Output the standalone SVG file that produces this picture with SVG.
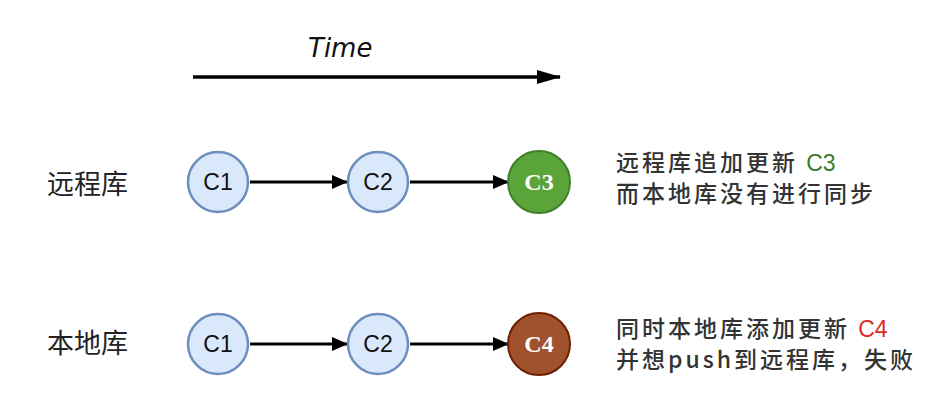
<svg xmlns="http://www.w3.org/2000/svg" width="948" height="416" viewBox="0 0 948 416">
<defs>
<marker id="arr" markerWidth="16" markerHeight="14" refX="15" refY="7" orient="auto" markerUnits="userSpaceOnUse">
<path d="M0,0 L16,7 L0,14 Z" fill="#000"/>
</marker>
<marker id="arrT" markerWidth="24" markerHeight="14" refX="23" refY="7" orient="auto" markerUnits="userSpaceOnUse">
<path d="M0,0 L24,7 L0,14 Z" fill="#000"/>
</marker>
<style>
.blue{fill:#dae8fc;stroke:#6c8ebf;stroke-width:2.5}
.green{fill:#5aa43a;stroke:#3f7f2a;stroke-width:2}
.brown{fill:#a0522d;stroke:#6d1f00;stroke-width:2}
.nt{font-family:"Liberation Sans",Arial,sans-serif;font-size:23px;fill:#111;text-anchor:middle}
.ns{font-family:"Liberation Serif","Times New Roman",serif;font-size:24px;font-weight:bold;fill:#fff;text-anchor:middle}
.lbl{font-family:"Noto Sans CJK SC","DejaVu Sans",sans-serif;font-size:27px;fill:#222}
.desc{font-family:"Noto Sans CJK SC","DejaVu Sans",sans-serif;font-size:23px;font-weight:500;fill:#333;letter-spacing:3px}
.edge{stroke:#000;stroke-width:3;fill:none;marker-end:url(#arr)}
</style>
</defs>
<rect width="948" height="416" fill="#fff"/>
<g id="time">
<text x="308" y="57" font-family="'DejaVu Sans',sans-serif" font-style="italic" font-size="26" fill="#111">Time</text>
<line x1="193" y1="77" x2="560" y2="77" stroke="#000" stroke-width="3.5" marker-end="url(#arrT)"/>
</g>
<g id="connectors">
<line x1="250" y1="182" x2="347" y2="182" class="edge"/>
<line x1="410" y1="182" x2="508" y2="182" class="edge"/>
<line x1="250" y1="344" x2="347" y2="344" class="edge"/>
<line x1="410" y1="344" x2="508" y2="344" class="edge"/>
</g>
<g id="label-remote"><text x="47" y="194" class="lbl">远程库</text></g>
<g id="label-local"><text x="47" y="353" class="lbl">本地库</text></g>
<g id="r-c1"><circle cx="218" cy="182" r="30" class="blue"/><text x="218" y="190" class="nt">C1</text></g>
<g id="r-c2"><circle cx="378" cy="182" r="30" class="blue"/><text x="378" y="190" class="nt">C2</text></g>
<g id="r-c3"><circle cx="539" cy="182" r="31" class="green"/><text x="539" y="190" class="ns">C3</text></g>
<g id="l-c1"><circle cx="218" cy="344" r="30" class="blue"/><text x="218" y="352" class="nt">C1</text></g>
<g id="l-c2"><circle cx="378" cy="344" r="30" class="blue"/><text x="378" y="352" class="nt">C2</text></g>
<g id="l-c4"><circle cx="539" cy="344" r="31" class="brown"/><text x="539" y="352" class="ns">C4</text></g>
<g id="desc-remote">
<text x="616" y="171" class="desc">远程库追加更新 <tspan fill="#3d7a2a" font-weight="normal" font-family="'Liberation Sans',sans-serif" letter-spacing="0">C3</tspan></text>
<text x="616" y="202" class="desc">而本地库没有进行同步</text>
</g>
<g id="desc-local">
<text x="616" y="337" class="desc">同时本地库添加更新 <tspan fill="#e0291f" font-weight="normal" font-family="'Liberation Sans',sans-serif" letter-spacing="0">C4</tspan></text>
<text x="616" y="368" class="desc">并想push到远程库，失败</text>
</g>
</svg>
